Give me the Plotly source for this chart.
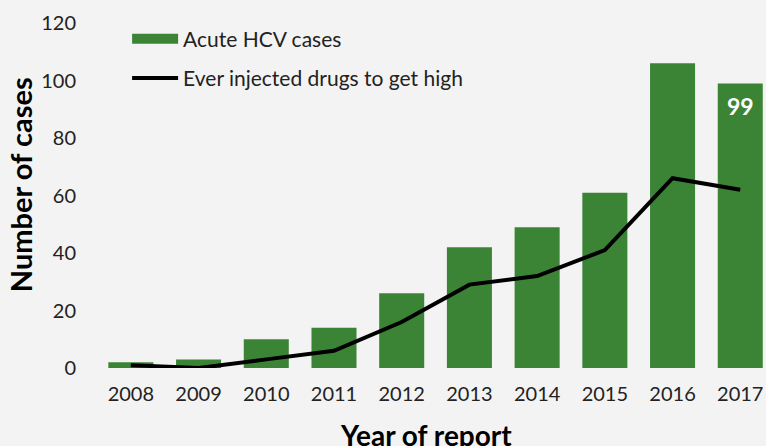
import plotly.graph_objects as go

years = ["2008", "2009", "2010", "2011", "2012", "2013", "2014", "2015", "2016", "2017"]
acute_hcv = [2, 3, 10, 14, 26, 42, 49, 61, 106, 99]
injected = [1, 0, 3, 6, 16, 29, 32, 41, 66, 62]
y_ticks = [0, 20, 40, 60, 80, 100, 120]

GREEN = "#3b8436"
BG = "#f3f3f3"
FONT = "Lato"
TXT = "#222222"

fig = go.Figure()
# bars (legend shown through a wide-swatch proxy entry below)
fig.add_trace(go.Bar(
    x=years, y=acute_hcv, name="Acute HCV cases", showlegend=False,
    marker=dict(color=GREEN, line=dict(width=0)),
))
fig.add_trace(go.Scatter(
    x=[None], y=[None], name="Acute HCV cases", mode="lines",
    line=dict(color=GREEN, width=12), legendgroup="a",
))
fig.add_trace(go.Scatter(
    x=years, y=injected, name="Ever injected drugs to get high",
    mode="lines", line=dict(color="black", width=4), legendgroup="b",
))

last = len(years) - 1

fig.update_layout(
    width=766, height=446,
    margin=dict(l=97, r=0, t=23, b=78),
    paper_bgcolor=BG, plot_bgcolor=BG,
    bargap=0.335,
    font=dict(family=FONT, size=20, color=TXT),
    showlegend=True,
    legend=dict(x=0.045, y=1.013, xanchor="left", yanchor="top",
                bgcolor="rgba(0,0,0,0)", itemwidth=46,
                font=dict(family=FONT, size=21, color=TXT),
                traceorder="grouped", tracegroupgap=9),
    xaxis=dict(type="category", range=[-0.5, 9.38], showgrid=False,
               zeroline=False, showline=False, ticks="",
               ticklabelstandoff=12,
               tickfont=dict(family=FONT, size=20, color=TXT)),
    yaxis=dict(range=[0, 120], tickvals=y_ticks, showgrid=False,
               zeroline=False, showline=False, ticks="",
               ticklabelstandoff=20,
               tickfont=dict(family=FONT, size=20, color=TXT)),
    annotations=[
        dict(text="<b>%d</b>" % acute_hcv[last], x=last, y=acute_hcv[last],
             xref="x", yref="y", yanchor="top", yshift=-7, showarrow=False,
             font=dict(family=FONT, size=23, color="white")),
        dict(text="<b>Year of report</b>", xref="paper", yref="paper",
             x=0.492, y=0, xanchor="center", yanchor="top", yshift=-48,
             showarrow=False, font=dict(family=FONT, size=28, color="black")),
        dict(text="<b>Number of cases</b>", xref="paper", yref="paper",
             x=0, y=0.53, xanchor="center", yanchor="middle", xshift=-77,
             textangle=-90, showarrow=False,
             font=dict(family=FONT, size=29, color="black")),
    ],
)

fig.write_html("out.html", config={"displayModeBar": False},
               post_script="document.body.style.margin='0';document.body.style.padding='0';")
